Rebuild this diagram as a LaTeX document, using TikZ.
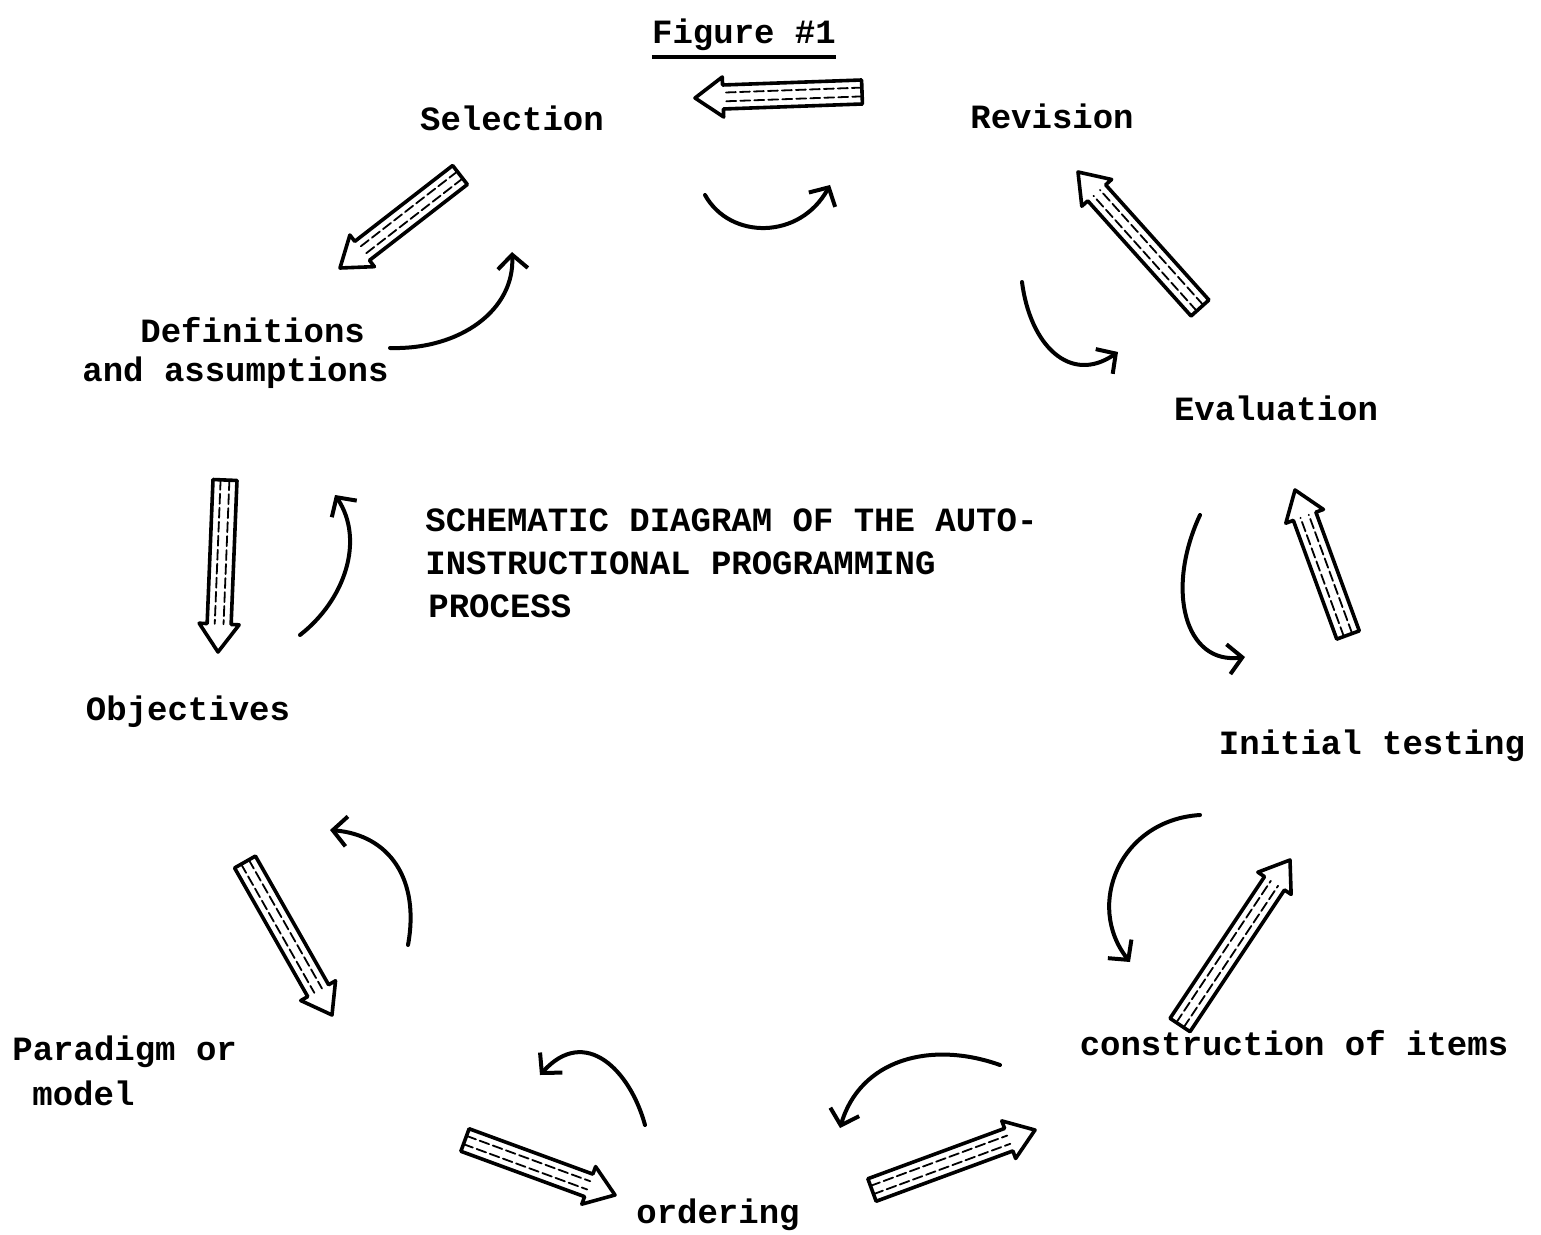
\documentclass[tikz,border=0pt]{standalone}
\usepackage{fontspec}
\setmonofont{Liberation Mono}
\usetikzlibrary{calc,arrows.meta}
\tikzset{
  lbl/.style={font=\ttfamily\bfseries\fontsize{17pt}{21.5pt}\selectfont, inner sep=0pt},
  curvy/.style={line width=2pt, line cap=round, -{Straight Barb[length=7pt,width=15pt,line width=2pt]}},
  fatline/.style={line width=1.8pt, line join=round, fill=white},
  fatinner/.style={line width=0.9pt, dash pattern=on 5pt off 2pt, line cap=round},
}
\newcommand{\fatarrow}[2]{%
  \coordinate (N) at ($(#2)!14pt!(#1)$);
  \draw[fatline] ($(#1)!6pt!90:(#2)$) -- ($(N)!6pt!-90:(#1)$) -- ($(N)!10pt!-90:(#1)$) -- (#2)
     -- ($(N)!10pt!90:(#1)$) -- ($(N)!6pt!90:(#1)$) -- ($(#1)!6pt!-90:(#2)$) -- cycle;
  \draw[fatinner] ($(#1)!2.2pt!90:(#2)$) -- ($(N)!2.2pt!-90:(#1)$);
  \draw[fatinner] ($(#1)!2.2pt!-90:(#2)$) -- ($(N)!2.2pt!90:(#1)$);
}
\begin{document}
\begin{tikzpicture}[x=0.5pt,y=-0.5pt]
\useasboundingbox (0,0) rectangle (1541,1235);

% title
\node[lbl] (title) at (744,35) {Figure \#1};
\draw[line width=1.8pt] (title.west |- 0,57) -- (title.east |- 0,57);

% labels
\node[lbl] (sel) at (512,118) {Selection};
\node[lbl] (rev) at (1052,116) {Revision};
\node[lbl, anchor=west] (def1) at (140,330) {Definitions};
\node[lbl, anchor=west] (def2) at (82,373) {and assumptions};
\node[lbl] (eva) at (1276,408) {Evaluation};
\node[lbl] (obj) at (188,712) {Objectives};
\node[lbl] (ini) at (1372,746) {Initial testing};
\node[lbl, anchor=west] (sch1) at (425,520) {SCHEMATIC DIAGRAM OF THE AUTO-};
\node[lbl, anchor=west] (sch2) at (425,563) {INSTRUCTIONAL PROGRAMMING};
\node[lbl, anchor=west] (sch3) at (428,606) {PROCESS};
\node[lbl, anchor=west] (par1) at (12,1052) {Paradigm or};
\node[lbl, anchor=west] (par2) at (32,1093) {model};
\node[lbl] (con) at (1294,1043) {construction of items};
\node[lbl] (ord) at (718,1215) {ordering};

% fat arrow endpoints
\coordinate (f1a) at (862,92);   \coordinate (f1b) at (695,98);
\coordinate (f2a) at (460,175);  \coordinate (f2b) at (340,268);
\coordinate (f3a) at (1200,308); \coordinate (f3b) at (1078,172);
\coordinate (f4a) at (225,480);  \coordinate (f4b) at (218,652);
\coordinate (f5a) at (1348,635); \coordinate (f5b) at (1295,490);
\coordinate (f6a) at (245,862);  \coordinate (f6b) at (332,1015);
\coordinate (f7a) at (1180,1025);\coordinate (f7b) at (1290,860);
\coordinate (f8a) at (465,1140); \coordinate (f8b) at (615,1195);
\coordinate (f9a) at (872,1190); \coordinate (f9b) at (1035,1130);
\fatarrow{f1a}{f1b}
\fatarrow{f2a}{f2b}
\fatarrow{f3a}{f3b}
\fatarrow{f4a}{f4b}
\fatarrow{f5a}{f5b}
\fatarrow{f6a}{f6b}
\fatarrow{f7a}{f7b}
\fatarrow{f8a}{f8b}
\fatarrow{f9a}{f9b}

% small curved arrows
\coordinate (ca1) at (705,195);  \coordinate (cb1) at (830,185);
\coordinate (ca2) at (390,348);  \coordinate (cb2) at (512,252);
\coordinate (ca3) at (1022,282); \coordinate (cb3) at (1118,352);
\coordinate (ca4) at (300,635);  \coordinate (cb4) at (335,495);
\coordinate (ca5) at (1200,515); \coordinate (cb5) at (1245,657);
\coordinate (ca6) at (408,945);  \coordinate (cb6) at (330,830);
\coordinate (ca7) at (1200,815); \coordinate (cb7) at (1130,962);
\coordinate (ca8) at (645,1125); \coordinate (cb8) at (540,1075);
\coordinate (ca9) at (1000,1065);\coordinate (cb9) at (840,1128);
\draw[curvy] (ca1) .. controls (730,240) and (800,240) .. (cb1);
\draw[curvy] (ca2) .. controls (460,350) and (515,310) .. (cb2);
\draw[curvy] (ca3) .. controls (1030,345) and (1070,385) .. (cb3);
\draw[curvy] (ca4) .. controls (345,600) and (365,540) .. (cb4);
\draw[curvy] (ca5) .. controls (1165,590) and (1185,665) .. (cb5);
\draw[curvy] (ca6) .. controls (420,880) and (390,835) .. (cb6);
\draw[curvy] (ca7) .. controls (1120,820) and (1085,905) .. (cb7);
\draw[curvy] (ca8) .. controls (630,1070) and (585,1025) .. (cb8);
\draw[curvy] (ca9) .. controls (930,1040) and (860,1060) .. (cb9);
\end{tikzpicture}
\end{document}
